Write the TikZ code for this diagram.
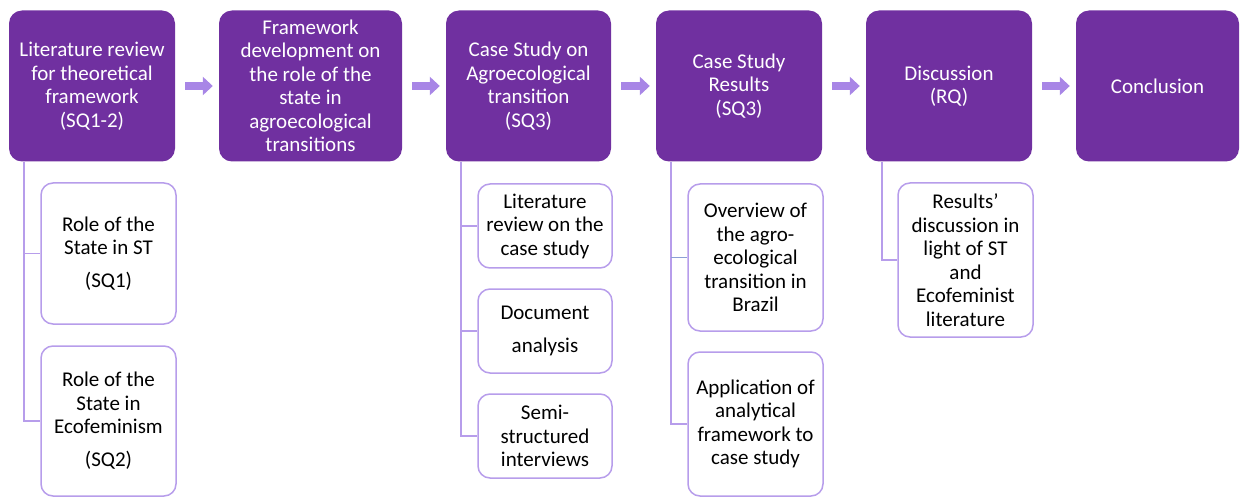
\documentclass[tikz,border=0pt]{standalone}
\usepackage{fontspec}
\setmainfont{Carlito}
\usepackage{tikz}
\usetikzlibrary{arrows.meta}
\definecolor{purple1}{HTML}{7030A0}
\definecolor{lilac1}{HTML}{A886E6}
\definecolor{lilac2}{HTML}{B79DEB}
\definecolor{blue1}{HTML}{8C9FD6}

\tikzset{
  stage/.style={fill=purple1, text=white, rounded corners=13pt, align=center,
    minimum width=166pt, minimum height=151pt, inner sep=0pt},
  subbox/.style={draw=lilac2, line width=1.5pt, fill=white, rounded corners=12pt,
    align=center, minimum width=135pt, inner sep=0pt},
  conn/.style={lilac2, line width=1.5pt},
  flow/.style={lilac1, line width=8pt, -{Triangle[length=10pt,width=18pt]},
    shorten <=10pt, shorten >=6pt},
}

\begin{document}
\begin{tikzpicture}[x=1pt, y=-1pt, every node/.style={font=\fontsize{21}{23.5}\selectfont}]

  \useasboundingbox (0,0) rectangle (1240,497);

  % main stages
  \node[stage] (lit) at (92,86) {Literature review\\for theoretical\\framework\\(SQ1-2)};
  \node[stage, minimum width=183pt] (frame) at (310.5,86) {Framework\\development on\\the role of the\\state in\\agroecological\\transitions};
  \node[stage, minimum width=165pt] (case) at (528.5,86) {Case Study on\\Agroecological\\transition\\(SQ3)};
  \node[stage] (res) at (739,86) {Case Study\\Results\\(SQ3)};
  \node[stage] (disc) at (949,86) {Discussion\\(RQ)};
  \node[stage, minimum width=163pt] (concl) at (1157.5,86) {Conclusion};

  \draw[flow] (lit.east) -- (frame.west);
  \draw[flow] (frame.east) -- (case.west);
  \draw[flow] (case.east) -- (res.west);
  \draw[flow] (res.east) -- (disc.west);
  \draw[flow] (disc.east) -- (concl.west);

  % literature review
  \node[subbox, minimum height=141pt] (st) at (108.5,253.5) {Role of the\\State in ST\\[9.5pt](SQ1)};
  \node[subbox, minimum height=150pt] (eco) at (108.5,421) {Role of the\\State in\\Ecofeminism\\[9.5pt](SQ2)};
  \draw[conn] ([xshift=15pt]lit.south west) |- (st.west);
  \draw[conn] ([xshift=15pt]lit.south west) |- (eco.west);

  % case study
  \node[subbox, minimum width=134pt, minimum height=84pt] (lrcase) at (545,226) {Literature\\review on the\\case study};
  \node[subbox, minimum width=134pt, minimum height=84pt] (doc) at (545,331) {Document\\[9.5pt]analysis};
  \node[subbox, minimum width=134pt, minimum height=84pt] (interv) at (545,436) {Semi-\\structured\\interviews};
  \draw[conn] ([xshift=15pt]case.south west) |- (lrcase.west);
  \draw[conn] ([xshift=15pt]case.south west) |- (doc.west);
  \draw[conn] ([xshift=15pt]case.south west) |- (interv.west);

  % results
  \node[subbox, minimum height=147pt] (overv) at (755.5,257.5) {Overview of\\the agro-\\ecological\\transition in\\Brazil};
  \node[subbox, minimum height=144pt] (appl) at (755.5,424) {Application of\\analytical\\framework to\\case study};
  \draw[conn] ([xshift=15pt]res.south west) |- (appl.west);
  \draw[conn] ([xshift=15pt]res.south west) -- ([xshift=15pt]res.south west |- overv.west);
  \draw[blue1, line width=1.5pt] ([xshift=15pt]res.south west |- overv.west) -- (overv.west);

  % discussion
  \node[subbox, minimum height=154pt] (light) at (965.5,260) {Results’\\discussion in\\light of ST\\and\\Ecofeminist\\literature};
  \draw[conn] ([xshift=16pt]disc.south west) |- (light.west);

\end{tikzpicture}
\end{document}
